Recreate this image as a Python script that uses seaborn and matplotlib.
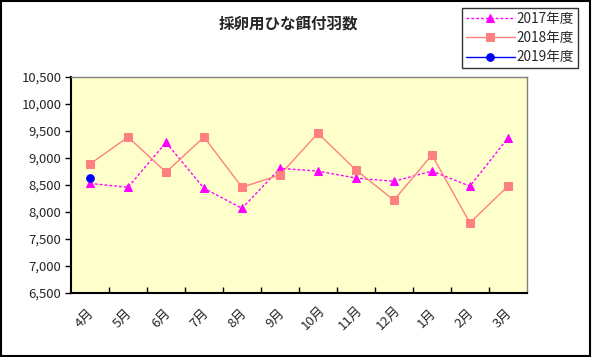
import numpy as np
import pandas as pd
import matplotlib
matplotlib.use('Agg')
import matplotlib.pyplot as plt
import matplotlib.transforms as mtransforms
import seaborn as sns
from matplotlib.ticker import FuncFormatter, FixedLocator

sns.set_style('white')
plt.rcParams['font.family'] = ['Noto Sans CJK JP', 'DejaVu Sans']

# data
months = ['4月', '5月', '6月', '7月', '8月', '9月', '10月', '11月', '12月', '1月', '2月', '3月']
fy2017 = [8530, 8460, 9290, 8440, 8070, 8810, 8760, 8630, 8570, 8760, 8480, 9370]
fy2018 = [8890, 9390, 8740, 9390, 8460, 8690, 9460, 8780, 8220, 9060, 7800, 8480]
fy2019 = [8630]

fig = plt.figure(figsize=(5.92, 3.57), dpi=100)
ax = fig.add_axes([0.12, 0.179, 0.77, 0.605])
ax.set_facecolor('#FFFFCC')

sns.lineplot(x=months, y=fy2017, ax=ax, color='#FF00FF', marker='^', markersize=6,
             markeredgecolor='#FF00FF', linewidth=1, linestyle=(0, (2, 1.5)), label='2017年度')
sns.lineplot(x=months, y=fy2018, ax=ax, color='#FF8080', marker='s', markersize=5.8,
             markeredgecolor='#FF8080', linewidth=1, label='2018年度')
sns.lineplot(x=months[:len(fy2019)], y=fy2019, ax=ax, color='#0000FF', marker='o', markersize=5.5,
             markeredgecolor='#0000FF', linewidth=1, label='2019年度')

ax.set_xlim(-0.5, 11.5)
ax.set_ylim(6500, 10500)
ax.set_yticks(np.arange(6500, 10501, 500))
ax.yaxis.set_major_formatter(FuncFormatter(lambda v, p: f'{int(v):,}'))
ax.tick_params(axis='y', which='major', direction='out', length=4, width=1, color='black',
               left=True, labelsize=9.5, pad=3)

ax.set_xticks(range(len(months)))
ax.set_xticklabels(months, rotation=45, fontsize=9.5)
ax.tick_params(axis='x', which='major', length=0, pad=18)
ax.xaxis.set_minor_locator(FixedLocator(np.arange(0.5, 11, 1)))
ax.tick_params(axis='x', which='minor', direction='in', length=4, width=1, color='black',
               bottom=True)
shift = mtransforms.ScaledTranslation(-5 / 100, 0, fig.dpi_scale_trans)
for lbl in ax.get_xticklabels():
    lbl.set_ha('center')
    lbl.set_va('center')
    lbl.set_transform(lbl.get_transform() + shift)

for s in ['left', 'bottom']:
    ax.spines[s].set_color('black')
    ax.spines[s].set_linewidth(1.5)
for s in ['top', 'right']:
    ax.spines[s].set_color('#808080')
    ax.spines[s].set_linewidth(1)

ax.set_xlabel('')
ax.set_ylabel('')

leg = ax.legend(loc='upper left', bbox_to_anchor=(0.78, 0.978), bbox_transform=fig.transFigure,
                frameon=True, fancybox=False, fontsize=9.8, handlelength=3.6,
                borderpad=0.3, labelspacing=0.38, handletextpad=0.15, borderaxespad=0)
leg.get_frame().set_edgecolor('black')
leg.get_frame().set_linewidth(1)

fig.text(0.487, 0.935, '採卵用ひな餌付羽数', ha='center', va='center', fontsize=11.2,
         fontweight='bold')

fig.patches.append(plt.Rectangle((0.002, 0.003), 0.995, 0.994, transform=fig.transFigure,
                                 fill=False, edgecolor='black', linewidth=1.5))

fig.savefig('out.png', dpi=100)
